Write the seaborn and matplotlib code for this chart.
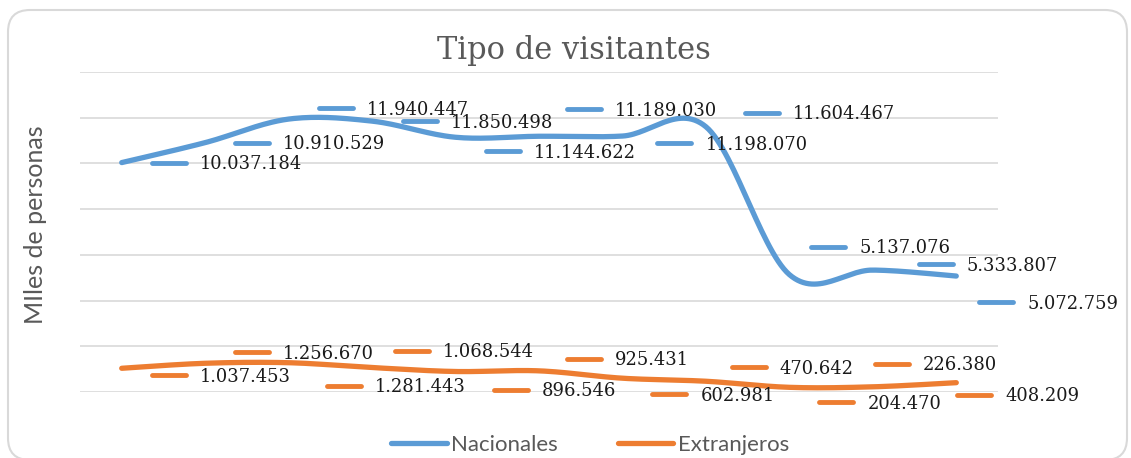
import numpy as np
import pandas as pd
import seaborn as sns
import matplotlib.pyplot as plt
from matplotlib import transforms
from matplotlib.markers import MarkerStyle
from matplotlib.patches import FancyBboxPatch

# data (personas)
periodos = list(range(11))
nacionales = [10037184, 10910529, 11940447, 11850498, 11144622, 11189030,
              11198070, 11604467, 5137076, 5333807, 5072759]
extranjeros = [1037453, 1256670, 1281443, 1068544, 896546, 925431,
               602981, 470642, 204470, 226380, 408209]

# label placement (pixels from the point: text x shift, y shift downwards)
nac_dx = [78, 78, 78, 79, 78, 76, 83, 87, 70, 94, 71]
nac_dy = [0, 0, -11, 0, 14, -27, 7, -14, -28, -6, 26]
ext_dx = [78, 78, 86, 71, 86, 76, 78, 74, 78, 50, 49]
ext_dy = [7, -11, 23, -17, 18, -12, 16, -14, 15, -23, 12]

AZUL = "#5B9BD5"
NARANJA = "#ED7D31"
GRIS = "#595959"


def fmt_es(v):
    return f"{v:,}".replace(",", ".")


def smooth(xs, ys, n=30):
    """Catmull-Rom curve through the points, like Excel's smoothed line."""
    p = np.column_stack([xs, ys]).astype(float)
    p = np.vstack([p[0], p, p[-1]])
    out = []
    t = np.linspace(0, 1, n, endpoint=False)[:, None]
    for i in range(1, len(p) - 2):
        p0, p1, p2, p3 = p[i - 1], p[i], p[i + 1], p[i + 2]
        c = 0.5 * ((2 * p1) + (-p0 + p2) * t + (2 * p0 - 5 * p1 + 4 * p2 - p3) * t ** 2
                   + (-p0 + 3 * p1 - 3 * p2 + p3) * t ** 3)
        out.append(c)
    out.append(p[-2][None, :])
    c = np.vstack(out)
    return c[:, 0], c[:, 1]


sns.set_style("white")
plt.rcParams["font.family"] = ["DejaVu Serif"]

fig = plt.figure(figsize=(11.31, 4.58), dpi=100)
ax = fig.add_axes([80 / 1131, 66 / 458, 918 / 1131, 320 / 458])

for vals, color, name in [(nacionales, AZUL, "Nacionales"), (extranjeros, NARANJA, "Extranjeros")]:
    sx, sy = smooth(periodos, vals)
    df = pd.DataFrame({"x": sx, "y": sy})
    sns.lineplot(data=df, x="x", y="y", ax=ax, color=color, linewidth=3.8,
                 sort=False, estimator=None, label=name, solid_capstyle="round")

dash = MarkerStyle("_", capstyle="round")
for vals, color, dxs, dys in [(nacionales, AZUL, nac_dx, nac_dy),
                              (extranjeros, NARANJA, ext_dx, ext_dy)]:
    for x, v, dx, dy in zip(periodos, vals, dxs, dys):
        tr = transforms.offset_copy(ax.transData, fig=fig, x=dx - 31, y=-dy, units="dots")
        ax.plot([x], [v], marker=dash, markersize=25, markeredgewidth=3.5,
                color=color, transform=tr, clip_on=False)
        ax.annotate(fmt_es(v), (x, v), xytext=(dx * 0.72, (-dy - 6.5) * 0.72),
                    textcoords="offset points", va="baseline", ha="left",
                    fontsize=12.9, color="#1a1a1a", annotation_clip=False)

ax.set_xlim(-0.5, 10.5)
ax.set_ylim(0, 14000000)
ax.set_yticks(np.arange(0, 14000001, 2000000))
ax.set_xticks([])
ax.tick_params(left=False, labelleft=False)
ax.yaxis.grid(True, color="#D9D9D9", linewidth=1.2)
for s in ax.spines.values():
    s.set_visible(False)
ax.set_xlabel("")
ax.set_ylabel("")

leg = ax.legend(loc="center", bbox_to_anchor=(590 / 1131, 1 - 445 / 458),
                bbox_transform=fig.transFigure, ncol=2, frameon=False,
                prop={"family": "Lato", "size": 16}, handlelength=2.5,
                handletextpad=0.2, columnspacing=2.7)
for t in leg.get_texts():
    t.set_color(GRIS)

fig.text(574 / 1131, 1 - 50 / 458, "Tipo de visitantes", ha="center", va="center",
         fontsize=22, color=GRIS)
fig.text(36 / 1131, 1 - 225 / 458, "MIles de personas", rotation=90, ha="center",
         va="center", fontsize=18, color=GRIS, family="Lato")

border = FancyBboxPatch((0.08, -0.02), 11.19, 4.5, boxstyle="round,pad=0,rounding_size=0.22",
                        transform=fig.dpi_scale_trans, facecolor="none",
                        edgecolor="#D9D9D9", linewidth=1.5)
fig.add_artist(border)

fig.savefig("out.png", dpi=100)
